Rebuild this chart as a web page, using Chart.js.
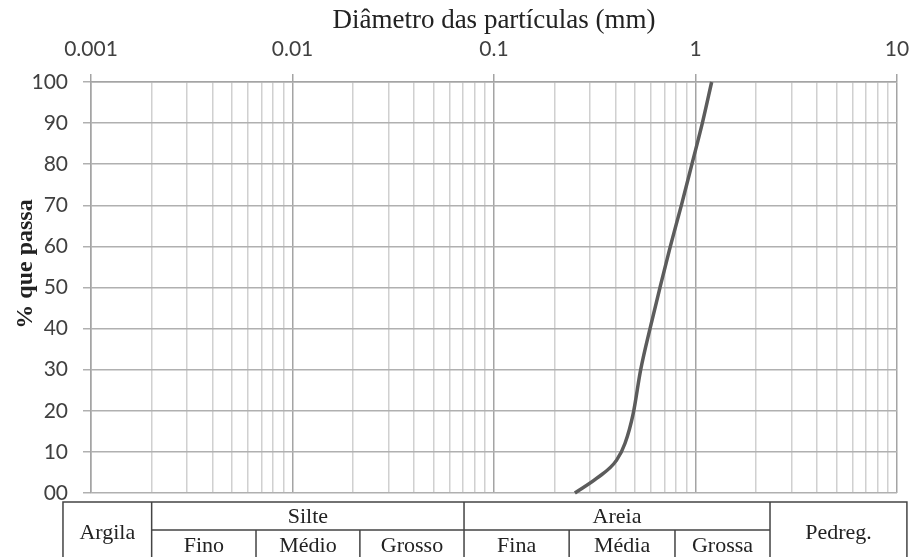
<!DOCTYPE html>
<html>
<head>
<meta charset="utf-8">
<script src="https://cdn.jsdelivr.net/npm/chart.js@4/dist/chart.umd.min.js"></script>
<style>
  body { margin: 0; background: #fff; }
  #wrap { width: 912px; height: 557px; }
</style>
</head>
<body>
<div id="wrap"><canvas id="chart"></canvas></div>
<script>
// grain size curve (diameter in mm, % passing)
const diameters = [0.252, 0.324, 0.406, 0.447, 0.491, 0.534, 0.598, 0.668, 0.749, 0.852, 0.962, 1.085, 1.203];
const passing = [0, 3.6, 8.0, 12.1, 19.4, 29.9, 40.5, 50.2, 59.9, 70.1, 80.2, 90.3, 100];

// axis ticks
const xDecades = [0.001, 0.01, 0.1, 1, 10];
const xSteps = [1, 2, 3, 4, 5, 6, 7, 8, 9];
const yTicks = [0, 10, 20, 30, 40, 50, 60, 70, 80, 90, 100];

// classification table below the plot (boundaries in mm)
const tableEdges = [0.000726, 0.002, 0.00659, 0.0216, 0.071, 0.236, 0.791, 2.343, 11.2];
const topRow = [
  { label: "Argila", from: 0, to: 1, span: true },
  { label: "Silte", from: 1, to: 4 },
  { label: "Areia", from: 4, to: 7 },
  { label: "Pedreg.", from: 7, to: 8, span: true },
];
const subRow = ["Fino", "Médio", "Grosso", "Fina", "Média", "Grossa"];

const isMajor = (v) => Math.abs(Math.log10(v) - Math.round(Math.log10(v))) < 1e-6;

const xTickValues = [];
xDecades.slice(0, -1).forEach((d) => {
  xSteps.forEach((s) => xTickValues.push(+(d * s).toPrecision(3)));
});
xTickValues.push(xDecades[xDecades.length - 1]);

const serif = "'Liberation Serif', 'DejaVu Serif', serif";

const tablePlugin = {
  id: "soilTable",
  afterDraw(chart) {
    const { ctx, chartArea } = chart;
    const xs = chart.scales.x;
    const px = (i) => xs.getPixelForValue(tableEdges[i]);
    const top = chartArea.bottom + 9;
    const mid = chartArea.bottom + 37;
    const bottom = chart.height + 10;

    ctx.save();
    ctx.strokeStyle = "#444";
    ctx.lineWidth = 1.5;
    ctx.beginPath();
    // outer frame
    ctx.rect(px(0), top, px(8) - px(0), bottom - top);
    // top row dividers
    topRow.forEach((c) => {
      ctx.moveTo(px(c.to), top);
      ctx.lineTo(px(c.to), bottom);
    });
    // split line under Silte / Areia
    ctx.moveTo(px(1), mid);
    ctx.lineTo(px(7), mid);
    // sub-row dividers
    [2, 3, 5, 6].forEach((i) => {
      ctx.moveTo(px(i), mid);
      ctx.lineTo(px(i), bottom);
    });
    ctx.stroke();

    ctx.fillStyle = "#222";
    ctx.font = "22px " + serif;
    ctx.textAlign = "center";
    ctx.textBaseline = "middle";
    topRow.forEach((c) => {
      const cx = (px(c.from) + px(c.to)) / 2;
      ctx.fillText(c.label, cx, c.span ? top + 31 : (top + mid) / 2 + 1);
    });
    subRow.forEach((t, i) => {
      const cx = (px(i + 1) + px(i + 2)) / 2;
      ctx.fillText(t, cx, mid + 16);
    });

    // y axis title
    ctx.font = "bold 24px " + serif;
    ctx.translate(26, 264);
    ctx.rotate(-Math.PI / 2);
    ctx.fillText("% que passa", 0, 0);
    ctx.restore();
  },
};

new Chart(document.getElementById("chart"), {
  type: "line",
  data: {
    datasets: [
      {
        data: diameters.map((d, i) => ({ x: d, y: passing[i] })),
        borderColor: "#5c5c5c",
        borderWidth: 3.5,
        pointRadius: 0,
        cubicInterpolationMode: "monotone",
        clip: false,
      },
    ],
  },
  options: {
    responsive: true,
    maintainAspectRatio: false,
    animation: false,
    layout: { padding: { left: 0, right: 15, top: 0, bottom: 64 } },
    plugins: {
      legend: { display: false },
      tooltip: { enabled: false },
    },
    scales: {
      x: {
        type: "logarithmic",
        position: "top",
        min: 0.001,
        max: 10,
        afterBuildTicks: (scale) => {
          scale.ticks = xTickValues.map((v) => ({ value: v }));
        },
        afterFit: (scale) => {
          scale.height = 82;
          scale.paddingLeft = 0;
          scale.paddingRight = 0;
        },
        ticks: {
          autoSkip: false,
          maxRotation: 0,
          padding: 12,
          color: "#404040",
          font: { family: "Lato", size: 21 },
          callback: (v) => (isMajor(v) ? String(v) : ""),
        },
        grid: {
          lineWidth: 1.5,
          tickLength: 8,
          color: (c) => (c.tick && isMajor(c.tick.value) ? "#a4a4a4" : "#d0d0d0"),
          tickColor: (c) => (c.tick && isMajor(c.tick.value) ? "#a4a4a4" : "rgba(0,0,0,0)"),
        },
        border: { color: "#a4a4a4", width: 1.5 },
        title: {
          display: true,
          text: "Diâmetro das partículas (mm)",
          color: "#222",
          font: { family: serif, size: 27 },
          padding: { top: 5, bottom: 0 },
        },
      },
      y: {
        min: 0,
        max: 100,
        afterBuildTicks: (scale) => {
          scale.ticks = yTicks.map((v) => ({ value: v }));
        },
        afterFit: (scale) => {
          scale.width = 91;
        },
        ticks: {
          padding: 15,
          color: "#404040",
          font: { family: "Lato", size: 21 },
          callback: (v) => (v === 0 ? "00" : String(v)),
        },
        grid: {
          lineWidth: 1.5,
          tickLength: 8,
          color: "#b0b0b0",
          tickColor: "#b0b0b0",
        },
        border: { color: "#a4a4a4", width: 1.5 },
      },
    },
  },
  plugins: [tablePlugin],
});
</script>
</body>
</html>
